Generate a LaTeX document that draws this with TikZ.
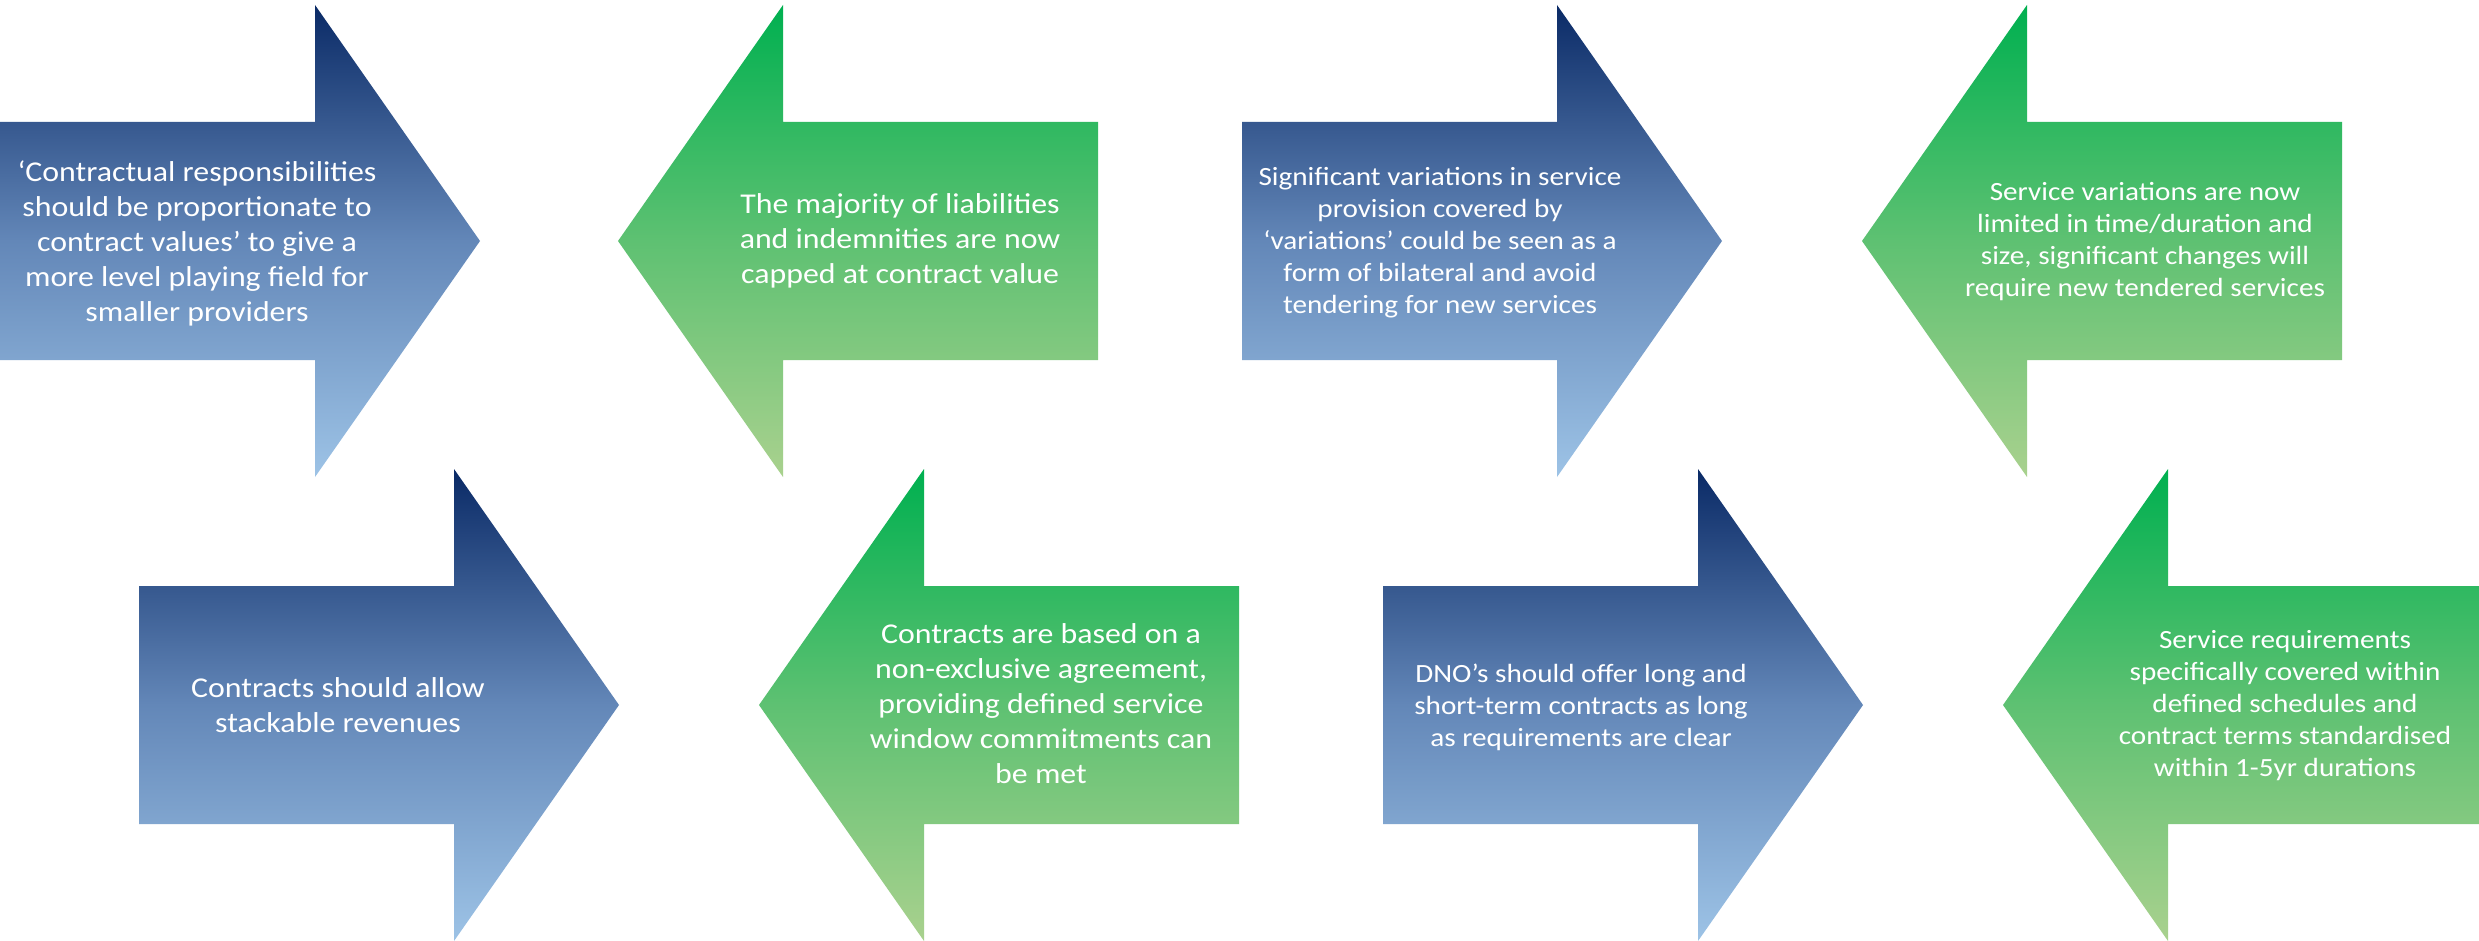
\documentclass[tikz,border=0pt]{standalone}
\usepackage{fontspec}
\setmainfont{Carlito}[FakeStretch=1.11]
\definecolor{btop}{HTML}{0A2A66}
\definecolor{bmid}{HTML}{6387B8}
\definecolor{bbot}{HTML}{9DC3E6}
\definecolor{gtop}{HTML}{00B050}
\definecolor{gmid}{HTML}{5EC172}
\definecolor{gbot}{HTML}{A9D18E}
\tikzset{
  bluefill/.style={top color=btop, bottom color=bbot, middle color=bmid, draw=none},
  greenfill/.style={top color=gtop, bottom color=gbot, middle color=gmid, draw=none},
  bigtxt/.style={text=white, align=center, inner sep=0pt, font=\fontsize{28.7}{35}\selectfont},
  smalltxt/.style={text=white, align=center, inner sep=0pt, font=\fontsize{26.3}{32}\selectfont},
}
% right arrow: #1 tail x, #2 centre y
\newcommand{\rarrow}[3]{\path[#3] (#1,#2-119) -- ++(315,0) -- ++(0,-117) -- (#1+480,#2) -- (#1+315,#2+236) -- ++(0,-117) -- (#1,#2+119) -- cycle;}
% left arrow: #1 tip x, #2 centre y
\newcommand{\larrow}[3]{\path[#3] (#1,#2) -- (#1+165,#2-236) -- ++(0,117) -- (#1+480,#2-119) -- ++(0,238) -- (#1+165,#2+119) -- ++(0,117) -- cycle;}
\begin{document}
\begin{tikzpicture}[x=1pt,y=-1pt]
\useasboundingbox (0,0) rectangle (2479,941);
\fill[white] (0,0) rectangle (2479,941);
% top row
\rarrow{0}{241}{bluefill}
\larrow{618}{241}{greenfill}
\rarrow{1242}{241}{bluefill}
\larrow{1862}{241}{greenfill}
% bottom row
\rarrow{139}{705}{bluefill}
\larrow{759}{705}{greenfill}
\rarrow{1383}{705}{bluefill}
\larrow{2003}{705}{greenfill}
% texts
\node[bigtxt] (t1) at (197,243) {‘Contractual responsibilities\\should be proportionate to\\contract values’ to give a\\more level playing field for\\smaller providers};
\node[bigtxt] (t2) at (900,241) {The majority of liabilities\\and indemnities are now\\capped at contract value};
\node[smalltxt] (t3) at (1440,243) {Significant variations in service\\provision covered by\\‘variations’ could be seen as a\\form of bilateral and avoid\\tendering for new services};
\node[smalltxt] (t4) at (2145,242) {Service variations are now\\limited in time/duration and\\size, significant changes will\\require new tendered services};
\node[bigtxt] (t5) at (338,705) {Contracts should allow\\stackable revenues};
\node[bigtxt] (t6) at (1041,704) {Contracts are based on a\\non-exclusive agreement,\\providing defined service\\window commitments can\\be met};
\node[smalltxt] (t7) at (1581,707) {DNO’s should offer long and\\short-term contracts as long\\as requirements are clear};
\node[smalltxt] (t8) at (2285,706) {Service requirements\\specifically covered within\\defined schedules and\\contract terms standardised\\within 1-5yr durations};
\end{tikzpicture}
\end{document}
